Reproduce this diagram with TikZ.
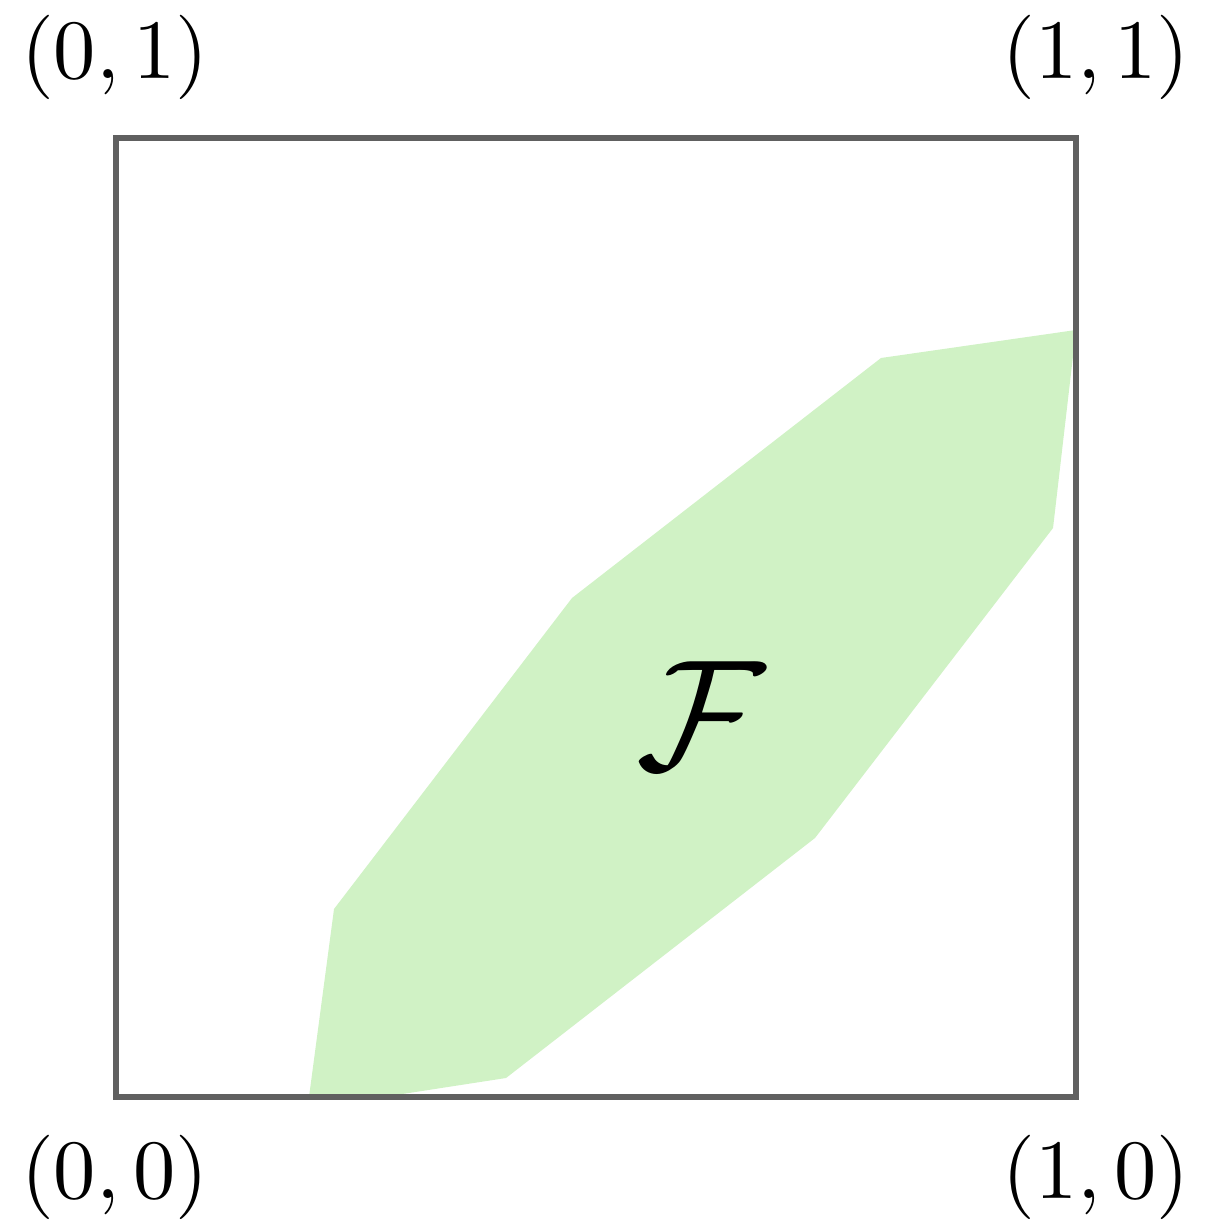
\documentclass[tikz,border=0pt]{standalone}
\definecolor{fgreen}{RGB}{208,242,197}
\definecolor{sqgray}{RGB}{96,96,96}
\tikzset{
  corner/.style={inner sep=0pt, font=\normalsize},
  frame/.style={draw=sqgray, line width=0.8pt},
  region/.style={fill=fgreen}
}
\begin{document}
\begin{tikzpicture}[x=0.0041667cm,y=-0.0041667cm]
\useasboundingbox (0,0) rectangle (1211,1222);
\fill[region] (309,1097) -- (334,909) -- (572,598) -- (881,358) -- (1076,330) -- (1053,528) -- (815,838) -- (506,1078) -- (383,1097) -- cycle;
\draw[frame] (116,138) rectangle (1076,1097);
\node[corner] (l01) at (115,57) {$(0,1)$};
\node[corner] (l11) at (1096,57) {$(1,1)$};
\node[corner] (l00) at (115,1177) {$(0,0)$};
\node[corner] (l10) at (1096,1177) {$(1,0)$};
\node[inner sep=0pt, font=\LARGE, scale=1.08] (F) at (701,716) {$\mathcal{F}$};
\end{tikzpicture}
\end{document}
